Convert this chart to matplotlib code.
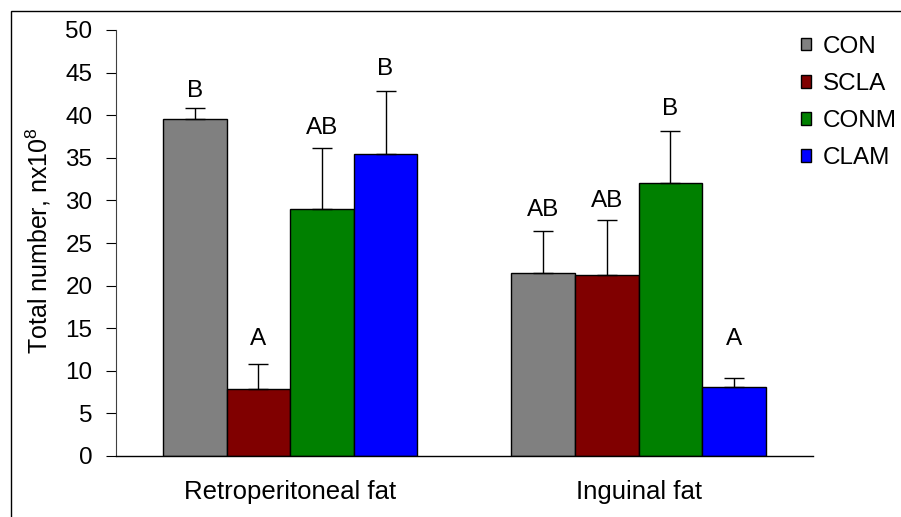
import matplotlib
matplotlib.use("Agg")
import matplotlib.pyplot as plt
import numpy as np
from matplotlib.patches import Rectangle

plt.rcParams['font.family'] = ['Liberation Sans', 'DejaVu Sans']
plt.rcParams['mathtext.default'] = 'regular'

groups = ["Retroperitoneal fat", "Inguinal fat"]
series = ["CON", "SCLA", "CONM", "CLAM"]
colors = ["#808080", "#800000", "#008000", "#0000FF"]
means = {
    "CON":  [39.5, 21.5],
    "SCLA": [7.9, 21.3],
    "CONM": [29.0, 32.0],
    "CLAM": [35.5, 8.1],
}
errors = {
    "CON":  [1.3, 4.9],
    "SCLA": [2.9, 6.4],
    "CONM": [7.2, 6.2],
    "CLAM": [7.3, 1.1],
}
letters = {
    "CON":  ["B", "AB"],
    "SCLA": ["A", "AB"],
    "CONM": ["AB", "B"],
    "CLAM": ["B", "A"],
}
# vertical gap (points) between error-bar cap and letter baseline
letter_gap = {
    "CON":  [8, 10.5],
    "SCLA": [14, 9],
    "CONM": [10, 11],
    "CLAM": [11.5, 23.5],
}

FS = 17.5

fig = plt.figure(figsize=(9.01, 5.17), dpi=100)
ax = fig.add_axes([116/901, 1-456/517, (812.7-116)/901, (456-30)/517])

x = np.arange(len(groups))
w = 0.1825
for i, s in enumerate(series):
    xs = x + (i - 1.5) * w
    ax.bar(xs, means[s], width=w, color=colors[i], edgecolor='black',
           linewidth=1.0, label=s, zorder=2)
    ax.errorbar(xs, means[s], yerr=[np.zeros(len(groups)), errors[s]],
                fmt='none', ecolor='black', elinewidth=1.0, capsize=7,
                capthick=1.0, zorder=3)
    for j in range(len(groups)):
        ax.annotate(letters[s][j], xy=(xs[j], means[s][j] + errors[s][j]),
                    xytext=(0, letter_gap[s][j]), textcoords='offset points',
                    ha='center', va='baseline', fontsize=FS)

ax.set_xlim(-0.5, 1.5)
ax.set_ylim(0, 50)
ax.set_yticks(np.arange(0, 51, 5))
ax.set_xticks(x)
ax.set_xticklabels(groups)
ax.tick_params(axis='x', length=0, pad=17, labelsize=18.5)
ax.tick_params(axis='y', direction='out', length=7, width=0.8, pad=10,
               labelsize=FS, colors='black')
for sp in ['top', 'right']:
    ax.spines[sp].set_visible(False)
ax.spines['left'].set_color('#404040')
ax.spines['left'].set_linewidth(0.8)
ax.spines['bottom'].set_color('black')
ax.spines['bottom'].set_linewidth(1.0)

fig.text(38/901, 1-241/517, 'Total number, nx10$^{8}$', rotation=90,
         ha='center', va='center', fontsize=18)

leg = fig.legend(loc='upper left', bbox_to_anchor=(801/901, 1-36/517),
                 frameon=False, fontsize=FS, handlelength=0.4, handleheight=0.4,
                 handletextpad=0.5, labelspacing=0.62, borderaxespad=0,
                 borderpad=0)

# figure border
fig.patches.append(Rectangle((11/901, -0.05), 1.2, 1 - 11/517 + 0.05,
                             transform=fig.transFigure, fill=False,
                             edgecolor='black', linewidth=1.0))

fig.savefig('out.png', dpi=100)
